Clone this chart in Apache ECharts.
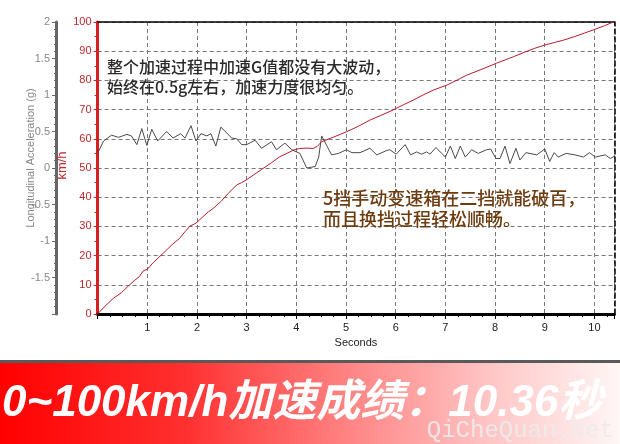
<!DOCTYPE html>
<html><head><meta charset="utf-8">
<script src="https://cdn.jsdelivr.net/npm/echarts@6/dist/echarts.min.js"></script>
<style>html,body{margin:0;padding:0;background:#fff}#c{width:620px;height:444px}</style>
</head><body><div id="c"></div>
<script>
// ---- data ----
var speedTime = [0,0.15,0.32,0.48,0.62,0.75,0.84,0.92,1.0,1.12,1.32,1.49,1.65,1.76,1.86,1.98,2.12,2.23,2.33,2.48,2.63,2.8,2.9,3.0,3.3,3.5,3.67,3.81,3.95,4.07,4.2,4.34,4.42,4.51,4.75,5.01,5.25,5.48,5.7,5.95,6.15,6.36,6.55,6.76,7.03,7.2,7.43,7.7,8.03,8.2,8.37,8.6,8.8,9.0,9.2,9.38,9.6,9.8,9.98,10.2,10.38];
var speedKmh = [0,2.7,5.4,7.3,9.6,11.6,12.8,14.8,15.3,17.6,20.8,23.6,25.9,28.2,30.1,31.1,33.3,35.0,36.2,38.5,41.3,44.2,45.0,46.0,49.5,51.8,53.9,55.0,56.2,56.7,56.8,56.7,57.4,59.0,60.6,62.4,64.3,66.4,68.0,69.9,71.6,73.3,75.0,76.7,78.4,79.8,81.8,83.6,85.9,87.0,88.1,89.7,91.0,92.1,93.0,93.8,95.0,96.2,97.3,98.7,100];
var accelTime = [0,0.12,0.28,0.42,0.59,0.68,0.79,0.89,0.99,1.09,1.21,1.39,1.52,1.67,1.76,1.88,1.98,2.08,2.2,2.28,2.38,2.48,2.6,2.7,2.8,2.9,3.0,3.17,3.3,3.5,3.6,3.77,3.91,4.07,4.21,4.38,4.45,4.51,4.71,4.85,5.01,5.12,5.28,5.48,5.62,5.82,5.88,6.01,6.19,6.3,6.42,6.52,6.62,6.69,6.81,7.0,7.1,7.2,7.3,7.4,7.53,7.66,7.83,7.91,8.02,8.1,8.2,8.3,8.42,8.5,8.62,8.84,9.0,9.1,9.19,9.27,9.43,9.61,9.78,9.9,10.02,10.22,10.32,10.4];
var accelG = [0.2,0.37,0.45,0.42,0.46,0.44,0.32,0.54,0.31,0.53,0.37,0.50,0.41,0.47,0.41,0.58,0.37,0.47,0.44,0.47,0.30,0.56,0.48,0.41,0.40,0.32,0.32,0.38,0.27,0.36,0.25,0.34,0.25,0.2,0.0,0.02,0.15,0.44,0.18,0.2,0.25,0.21,0.21,0.27,0.18,0.24,0.25,0.19,0.32,0.18,0.22,0.19,0.22,0.19,0.28,0.15,0.30,0.13,0.30,0.15,0.25,0.20,0.25,0.26,0.13,0.13,0.30,0.06,0.27,0.11,0.21,0.18,0.26,0.09,0.21,0.15,0.2,0.18,0.15,0.21,0.15,0.18,0.13,0.16];
var xName = 'Seconds';
var gName = 'Longitudinal Acceleration (g)';
var speedName = 'km/h';
var note1 = ['整个加速过程中加速G值都没有大波动，', '始终在0.5g左右，加速力度很均匀。'];
var note2 = ['5挡手动变速箱在二挡就能破百，', '而且换挡过程轻松顺畅。'];
var bannerText = '0~100km/h加速成绩：10.36秒';
var watermark = 'QiCheQuan.Net';

function zip(a, b) { return a.map(function (v, i) { return [v, b[i]]; }); }

var chart = echarts.init(document.getElementById('c'), null, {renderer: 'canvas'});
var FONT = '"Liberation Sans", Arial, sans-serif';
var CJK = '"Noto Sans CJK SC", sans-serif';
var dash = [4, 3];

chart.setOption({
  animation: false,
  backgroundColor: '#fff',
  grid: {left: 97.6, right: 5.7, top: 22, bottom: 130, containLabel: false},
  xAxis: [{
    type: 'value', min: 0, max: 10.4, interval: 1, position: 'bottom',
    axisLine: {show: true, onZero: false, lineStyle: {color: '#000', width: 3}},
    axisTick: {show: true, length: 5, lineStyle: {color: '#000'}},
    minorTick: {show: true, splitNumber: 4, length: 3, lineStyle: {color: '#000'}},
    axisLabel: {color: '#222', fontSize: 11, fontFamily: FONT, margin: 8,
      formatter: function (v) { return (v > 0 && Math.abs(v - Math.round(v)) < 1e-6) ? String(Math.round(v)) : ''; }},
    splitLine: {show: true, lineStyle: {color: '#777', type: dash}},
    name: xName, nameLocation: 'middle', nameGap: 23, nameMoveOverlap: false,
    nameTextStyle: {color: '#222', fontSize: 11, fontFamily: FONT}
  }, {
    type: 'value', min: 0, max: 10.4, position: 'top',
    axisLine: {show: true, onZero: false, lineStyle: {color: '#000', width: 1.5}},
    axisTick: {show: false}, axisLabel: {show: false}, splitLine: {show: false}
  }],
  yAxis: [{
    type: 'value', min: -2, max: 2, interval: 0.5, position: 'left', offset: 41.6,
    axisLine: {show: true, onZero: false, lineStyle: {color: '#666', width: 3}},
    axisTick: {show: true, length: 4, lineStyle: {color: '#666'}},
    minorTick: {show: true, splitNumber: 5, length: 2, lineStyle: {color: '#666'}},
    axisLabel: {color: '#888', fontSize: 11, fontFamily: FONT, margin: 6,
      formatter: function (v) { return v === -2 ? '' : String(v); }},
    splitLine: {show: false},
    name: gName, nameLocation: 'middle', nameGap: 20, nameMoveOverlap: false,
    nameTextStyle: {color: '#888', fontSize: 11, fontFamily: FONT, padding: [0, 0, 0, 20]}
  }, {
    type: 'value', min: 0, max: 100, interval: 10, position: 'left', offset: 0,
    axisLine: {show: true, onZero: false, lineStyle: {color: '#d42020', width: 3}},
    axisTick: {show: true, length: 4, lineStyle: {color: '#d42020'}},
    minorTick: {show: true, splitNumber: 2, length: 3, lineStyle: {color: '#d42020'}},
    axisLabel: {color: '#c0282d', fontSize: 11, fontFamily: FONT, margin: 6},
    splitLine: {show: true, lineStyle: {color: '#777', type: dash}},
    name: speedName, nameLocation: 'middle', nameGap: 29, nameMoveOverlap: false,
    nameTextStyle: {color: '#c0282d', fontSize: 13, fontFamily: FONT, padding: [0, 0, 0, 5]}
  }, {
    type: 'value', min: 0, max: 100, position: 'right',
    axisLine: {show: true, onZero: false, lineStyle: {color: '#000', width: 1.5, type: [5, 3]}},
    axisTick: {show: false}, axisLabel: {show: false}, splitLine: {show: false}
  }],
  series: [{
    name: 'accel', type: 'line', xAxisIndex: 0, yAxisIndex: 0, data: zip(accelTime, accelG),
    showSymbol: false, symbol: 'none', lineStyle: {color: '#4a4a4a', width: 1}, z: 3
  }, {
    name: 'speed', type: 'line', xAxisIndex: 0, yAxisIndex: 1, data: zip(speedTime, speedKmh),
    showSymbol: false, symbol: 'none', lineStyle: {color: '#b81c2c', width: 1}, z: 4
  }],
  graphic: [
    {type: 'text', left: 107, top: 57, z: 10, style: {text: note1.join('\n'), font: '500 16px ' + CJK, fill: '#2a2a2a', lineHeight: 20}},
    {type: 'text', left: 323, top: 188, z: 10, style: {text: note2.join('\n'), font: '500 18px ' + CJK, fill: '#6e3b0e', lineHeight: 21}},
    {type: 'rect', shape: {x: 0, y: 360, width: 620, height: 3}, z: 10, style: {fill: '#5a5a5a'}},
    {type: 'rect', shape: {x: 0, y: 363, width: 620, height: 81}, z: 10,
      style: {fill: {type: 'linear', x: 0, y: 0, x2: 1, y2: 0, colorStops: [
        {offset: 0, color: '#ff0000'}, {offset: 0.3, color: '#ff3030'}, {offset: 0.55, color: '#ff8080'},
        {offset: 0.8, color: '#ffc8c8'}, {offset: 1, color: '#fff6f6'}]}}},
    {type: 'text', x: 2, y: 404, z: 11, style: {text: bannerText, font: 'italic bold 44px "Liberation Sans", "Noto Sans CJK SC", sans-serif',
      fill: '#fff', verticalAlign: 'middle', shadowColor: 'rgba(0,0,0,0.85)', shadowBlur: 4, shadowOffsetX: 2, shadowOffsetY: 2}},
    {type: 'text', x: 614, y: 431, z: 12, style: {text: watermark, font: '24px "Liberation Mono", monospace',
      fill: 'rgba(235,235,235,0.9)', align: 'right', verticalAlign: 'middle'}}
  ]
});
</script></body></html>
